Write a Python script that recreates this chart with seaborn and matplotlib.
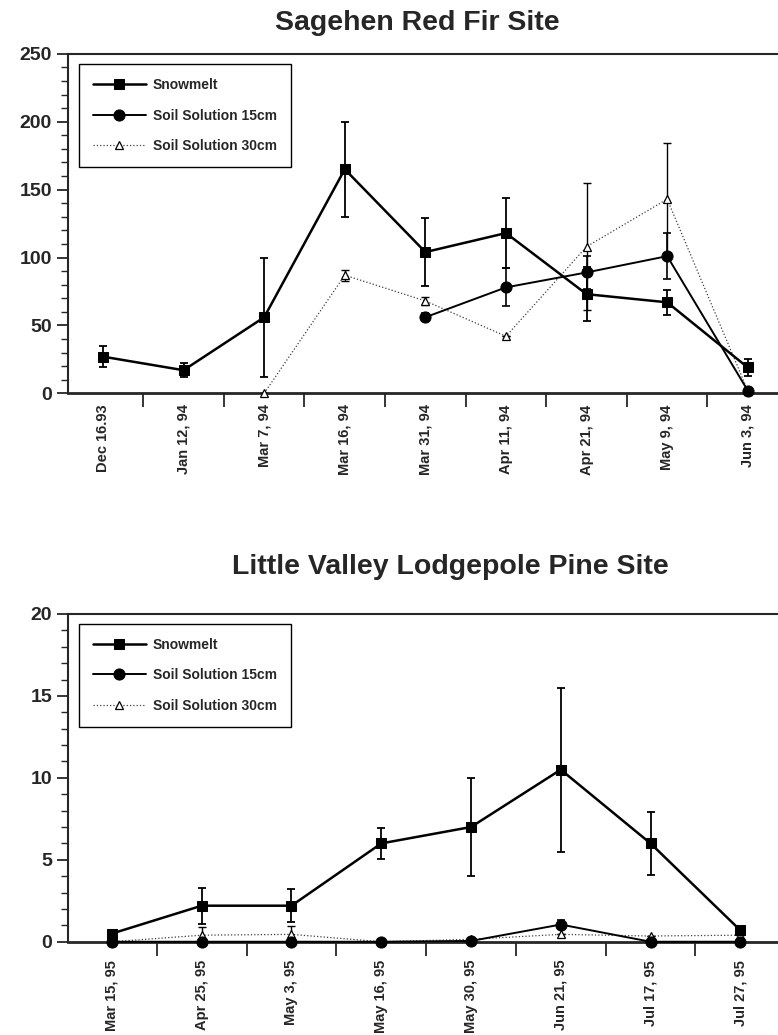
# Snowmelt and soil solution concentrations at two sites

import matplotlib
matplotlib.use('Agg')
import matplotlib.pyplot as plt
import numpy as np
import pandas as pd
import seaborn as sns

nan = np.nan

# Sagehen Red Fir Site
dates_top = ['Dec 16.93', 'Jan 12, 94', 'Mar 7, 94', 'Mar 16, 94', 'Mar 31, 94',
             'Apr 11, 94', 'Apr 21, 94', 'May 9, 94', 'Jun 3, 94']
snow_top = [27, 17, 56, 165, 104, 118, 73, 67, 19]
snow_top_err = [8, 5, 44, 35, 25, 26, 20, 9, 6]
soil15_top = [nan, nan, nan, nan, 56, 78, 89, 101, 2]
soil15_top_err = [nan, nan, nan, nan, 3, 14, 12, 17, 0]
soil30_top = [nan, nan, 0, 87, 68, 42, 108, 143, 2]
soil30_top_err = [nan, nan, 0, 4, 3, 0, 47, 41, 0]

# Little Valley Lodgepole Pine Site
dates_bot = ['Mar 15, 95', 'Apr 25, 95', 'May 3, 95', 'May 16, 95', 'May 30, 95',
             'Jun 21, 95', 'Jul 17, 95', 'Jul 27, 95']
snow_bot = [0.5, 2.2, 2.2, 6.0, 7.0, 10.5, 6.0, 0.7]
snow_bot_err = [0, 1.1, 1.0, 0.95, 3.0, 5.0, 1.9, 0]
soil15_bot = [0, 0, 0, 0, 0.05, 1.05, 0, 0]
soil15_bot_err = [0, 0, 0, 0, 0, 0.3, 0, 0]
soil30_bot = [0, 0.4, 0.45, 0, 0.15, 0.45, 0.35, 0.4]
soil30_bot_err = [0, 0.5, 0.5, 0, 0, 0, 0, 0]

sns.set_style('ticks')
plt.rcParams['font.family'] = ['Liberation Sans', 'DejaVu Sans']
plt.rcParams['font.weight'] = 'bold'

fig = plt.figure(figsize=(7.78, 10.35), dpi=100)
ax1 = fig.add_axes([0.0874, 0.620, 0.9126, 0.328])
ax2 = fig.add_axes([0.0874, 0.0901, 0.9126, 0.3167])


def draw_panel(ax, dates, snow, snow_err, s15, s15_err, s30, s30_err, label_pad):
    df = pd.DataFrame({'idx': np.arange(len(dates)), 'snow': snow, 'snow_err': snow_err,
                       's15': s15, 's15_err': s15_err, 's30': s30, 's30_err': s30_err})
    # error bars first so markers sit on top
    for col, lw in [('snow', 1.3), ('s15', 1.2), ('s30', 1.0)]:
        d = df.dropna(subset=[col])
        ax.errorbar(d['idx'], d[col], yerr=d[col + '_err'], fmt='none', ecolor='black',
                    elinewidth=lw, capsize=3, capthick=lw, clip_on=False, zorder=2)
    sns.lineplot(data=df.dropna(subset=['s30']), x='idx', y='s30', ax=ax, color='0.25',
                 lw=0.9, ls=':', marker='^', markersize=6, markerfacecolor='white',
                 markeredgecolor='black', markeredgewidth=0.9, label='Soil Solution 30cm',
                 clip_on=False, zorder=3)
    sns.lineplot(data=df.dropna(subset=['s15']), x='idx', y='s15', ax=ax, color='black',
                 lw=1.4, marker='o', markersize=8, markeredgecolor='black',
                 label='Soil Solution 15cm', clip_on=False, zorder=4)
    sns.lineplot(data=df, x='idx', y='snow', ax=ax, color='black', lw=1.8, marker='s',
                 markersize=7.5, markeredgecolor='black', label='Snowmelt',
                 clip_on=False, zorder=5)

    n = len(dates)
    ax.set_xticks(np.arange(n))
    ax.set_xticklabels(dates, rotation=90, fontsize=10.5, fontweight='bold')
    ax.set_xticks(np.arange(n) + 0.5, minor=True)
    ax.tick_params(axis='x', which='major', length=0, pad=label_pad)
    ax.tick_params(axis='x', which='minor', length=10, width=1.3, direction='out')
    ax.tick_params(axis='y', which='major', length=8, width=1.3, direction='out',
                   labelsize=14)
    ax.tick_params(axis='y', which='minor', length=5, width=1.0, direction='out')
    ax.set_xlabel('')
    ax.set_ylabel('')
    ax.spines['right'].set_visible(False)
    ax.spines['left'].set_linewidth(1.5)
    ax.spines['top'].set_linewidth(1.5)
    ax.spines['bottom'].set_linewidth(2.0)

    h, l = ax.get_legend_handles_labels()
    order = [l.index('Snowmelt'), l.index('Soil Solution 15cm'), l.index('Soil Solution 30cm')]
    leg = ax.legend([h[i] for i in order], [l[i] for i in order], loc='upper left',
                    bbox_to_anchor=(0.0155, 0.97), borderaxespad=0, fancybox=False,
                    framealpha=1, edgecolor='black', handlelength=3.8,
                    handletextpad=0.5, labelspacing=1.2, borderpad=1.0,
                    prop={'size': 10, 'weight': 'bold'})
    leg.get_frame().set_linewidth(1.0)


draw_panel(ax1, dates_top, snow_top, snow_top_err, soil15_top, soil15_top_err,
           soil30_top, soil30_top_err, label_pad=8)
ax1.set_xlim(-0.434, 8.375)
ax1.set_ylim(0, 250)
ax1.set_yticks(np.arange(0, 251, 50))
ax1.set_yticks(np.arange(0, 251, 10), minor=True)
for lab in ax1.get_yticklabels():
    lab.set_fontweight('bold')

draw_panel(ax2, dates_bot, snow_bot, snow_bot_err, soil15_bot, soil15_bot_err,
           soil30_bot, soil30_bot_err, label_pad=13)
ax2.set_xlim(-0.49, 7.42)
ax2.set_ylim(0, 20)
ax2.set_yticks(np.arange(0, 21, 5))
ax2.set_yticks(np.arange(0, 21, 1), minor=True)
for lab in ax2.get_yticklabels():
    lab.set_fontweight('bold')

fig.text(0.536, 0.978, 'Sagehen Red Fir Site', ha='center', va='center',
         fontsize=20.5, fontweight='bold')
fig.text(0.579, 0.452, 'Little Valley Lodgepole Pine Site', ha='center', va='center',
         fontsize=20.5, fontweight='bold')

fig.savefig('out.png', dpi=100)
